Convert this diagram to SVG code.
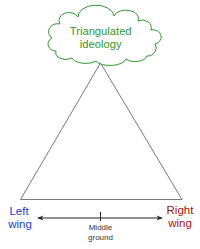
<svg xmlns="http://www.w3.org/2000/svg" width="200" height="249" viewBox="0 0 200 249">
<style>
.t{font-family:"Liberation Sans",Arial,sans-serif;text-anchor:middle}
</style>
<defs>
<marker id="ah" viewBox="0 0 10 10" refX="9" refY="5" markerWidth="7" markerHeight="6" orient="auto-start-reverse" markerUnits="userSpaceOnUse">
<path d="M0,1 L10,5 L0,9 L3,5 Z" fill="#222"/>
</marker>
</defs>
<rect width="200" height="249" fill="#fff"/>
<g id="triangle">
<path d="M100.5,63 L20.5,199.5 L182,199.5 Z" fill="none" stroke="#7a7a7a" stroke-width="1"/>
</g>
<g id="cloud">
<path d="M52,38 A9,8 0 0 1 60,24 A10,8 0 0 1 78,17 A16,10 0 0 1 114,16 A12,8 0 0 1 138,21 A9,8 0 0 1 151,30 A8,7 0 0 1 155,44 A9,8 0 0 1 147,56 A12,7 0 0 1 126,59 A16,8 0 0 1 96,61 A14,7 0 0 1 72,58 A10,7 0 0 1 56,51 A8,7 0 0 1 52,38 Z" fill="#fff" stroke="#2f9a2f" stroke-width="1"/>
<text class="t" x="100.7" y="35" font-size="11.2" fill="#2f9a2f">Triangulated</text>
<text class="t" x="100.7" y="48" font-size="11.2" fill="#2f9a2f">ideology</text>
</g>
<g id="left">
<text class="t" x="19" y="215" font-size="11.5" fill="#2040d0">Left</text>
<text class="t" x="20" y="228" font-size="11.5" fill="#2040d0">wing</text>
</g>
<g id="right">
<text class="t" x="180" y="214" font-size="11.5" fill="#aa1111">Right</text>
<text class="t" x="180" y="227" font-size="11.5" fill="#aa1111">wing</text>
</g>
<g id="connectors">
<line x1="38" y1="218" x2="162" y2="218" stroke="#222" stroke-width="1" marker-start="url(#ah)" marker-end="url(#ah)"/>
<line x1="100.5" y1="212" x2="100.5" y2="221" stroke="#222" stroke-width="1"/>
</g>
<g id="middle">
<text class="t" x="100.5" y="230" font-size="8" fill="#333">Middle</text>
<text class="t" x="100.5" y="239.5" font-size="8" fill="#333">ground</text>
</g>
</svg>
